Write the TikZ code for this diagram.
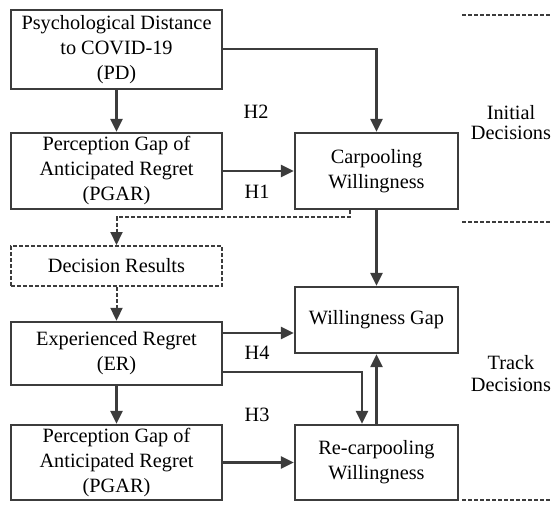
\documentclass[tikz,border=0pt]{standalone}
\usepackage{fontspec}
\setmainfont{Liberation Serif}
\usetikzlibrary{arrows.meta,calc}
\definecolor{ln}{HTML}{3C3C3C}
\begin{document}
\begin{tikzpicture}[x=1pt,y=-1pt,
  box/.style={draw=ln,line width=2.4pt,align=center,inner sep=0pt,
    font=\fontsize{20.3}{25}\selectfont,text=black},
  dbox/.style={box,dash pattern=on 4pt off 2pt,line width=2pt},
  arr/.style={draw=ln,line width=2.4pt,-{Triangle[length=13pt,width=12pt]}},
  darr/.style={arr,dash pattern=on 4pt off 2pt,line width=2pt},
  lab/.style={font=\fontsize{20.3}{21}\selectfont,inner sep=0pt,align=center},
  sep/.style={draw=ln,line width=2pt,dash pattern=on 4pt off 2pt}]
\useasboundingbox (0,0) rectangle (552,514);
\node[box,minimum width=211pt,minimum height=79pt] (pd) at (116.5,49.5) {Psychological Distance\\to COVID-19\\(PD)};
\node[box,minimum width=211pt,minimum height=76pt] (pg1) at (116.5,171) {Perception Gap of\\Anticipated Regret\\(PGAR)};
\node[box,minimum width=163pt,minimum height=76pt] (cw) at (376.5,171) {Carpooling\\Willingness};
\node[dbox,minimum width=211pt,minimum height=40pt] (dr) at (116.5,266) {Decision Results};
\node[box,minimum width=211pt,minimum height=63pt] (er) at (116.5,353.5) {Experienced Regret\\(ER)};
\node[box,minimum width=163pt,minimum height=66pt] (wg) at (376.5,320) {Willingness Gap};
\node[box,minimum width=211pt,minimum height=75pt] (pg2) at (116.5,462.5) {Perception Gap of\\Anticipated Regret\\(PGAR)};
\node[box,minimum width=163pt,minimum height=75pt] (rc) at (376.5,462.5) {Re-carpooling\\Willingness};
% labels
\node[lab] (h2) at (256,112) {H2};
\node[lab] (h1) at (257,192) {H1};
\node[lab] (h4) at (257,353) {H4};
\node[lab] (h3) at (257,415) {H3};
\node[lab,font=\fontsize{20.3}{20}\selectfont] (init) at (511,123) {Initial\\Decisions};
\node[lab,font=\fontsize{20.3}{22}\selectfont] (track) at (511,374) {Track\\Decisions};
% separators
\coordinate (s1a) at (462,15); \coordinate (s1b) at (552,15);
\coordinate (s2a) at (462,222); \coordinate (s2b) at (552,222);
\coordinate (s3a) at (462,500); \coordinate (s3b) at (552,500);
\draw[sep] (s1a) -- (s1b);
\draw[sep] (s2a) -- (s2b);
\draw[sep] (s3a) -- (s3b);
% connectors
\draw[arr] (pd) -- (pg1);
\draw[arr] (pd.east |- 0,49) -| (cw.north);
\draw[arr] (pg1.east) -- (cw.west);
\coordinate (d1) at (350,217);
\coordinate (d2) at (116.5,217);
\draw[darr] (cw.south -| d1) -- (d1) -- (d2) -- (dr.north);
\draw[darr] (dr) -- (er);
\draw[arr] (cw) -- (wg);
\draw[arr] (er.east |- 0,333) -- (wg.west |- 0,333);
\coordinate (e1) at (362,372);
\draw[arr] (er.east |- e1) -- (e1) -- (rc.north -| e1);
\draw[arr] (er) -- (pg2);
\draw[arr] (pg2) -- (rc);
\draw[arr] (rc) -- (wg);
\end{tikzpicture}
\end{document}
